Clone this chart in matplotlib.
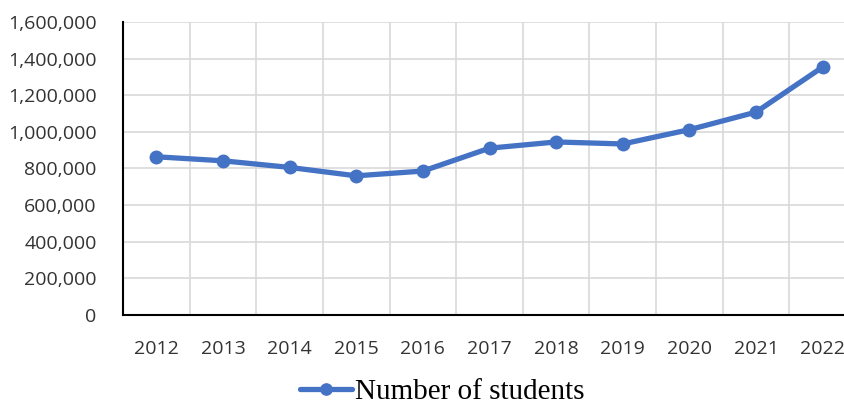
import numpy as np
import matplotlib.pyplot as plt
from matplotlib.ticker import FuncFormatter

years = ['2012', '2013', '2014', '2015', '2016', '2017', '2018', '2019', '2020', '2021', '2022']
students = [864000, 842000, 806000, 760000, 786000, 911000, 945000, 934000, 1012000, 1108000, 1354000]

fig = plt.figure(figsize=(8.44, 4.05), dpi=100)
# plot area runs past the right edge like the reference crop
ax = fig.add_axes([123/844, 90/405, 733/844, 293/405])

x = np.arange(len(years))
ax.plot(x, students, color='#4472C4', lw=3.8, marker='o', ms=9,
        label='Number of students', solid_capstyle='round')

ax.set_xlim(-0.5, len(years) - 0.5)
ax.set_ylim(0, 1600000)
ax.set_yticks(np.arange(0, 1600001, 200000))
ax.yaxis.set_major_formatter(FuncFormatter(lambda v, p: f'{int(v):,}'))
ax.set_xticks(x)
ax.set_xticklabels(years)
ax.set_xticks(np.arange(0.5, len(years) - 0.5, 1), minor=True)

ax.grid(axis='y', which='major', color='#d9d9d9', lw=1.2)
ax.grid(axis='x', which='minor', color='#d9d9d9', lw=1.2)
ax.tick_params(which='both', length=0)
ax.tick_params(axis='y', pad=19, labelsize=14, labelcolor='#333333')
ax.tick_params(axis='x', pad=18, labelsize=14, labelcolor='#333333')
for lab in ax.get_xticklabels() + ax.get_yticklabels():
    lab.set_fontfamily('Open Sans')

for s in ['top', 'right']:
    ax.spines[s].set_visible(False)
ax.spines['left'].set_color('black')
ax.spines['bottom'].set_color('black')
ax.spines['left'].set_linewidth(1.5)
ax.spines['bottom'].set_linewidth(1.5)

fig.legend(loc='center', bbox_to_anchor=(442/844, 1 - 392/405), frameon=False,
           prop={'family': 'Liberation Serif', 'size': 21}, handlelength=1.8,
           handletextpad=0.1, markerscale=0.9)

fig.savefig('out.png', dpi=100)
